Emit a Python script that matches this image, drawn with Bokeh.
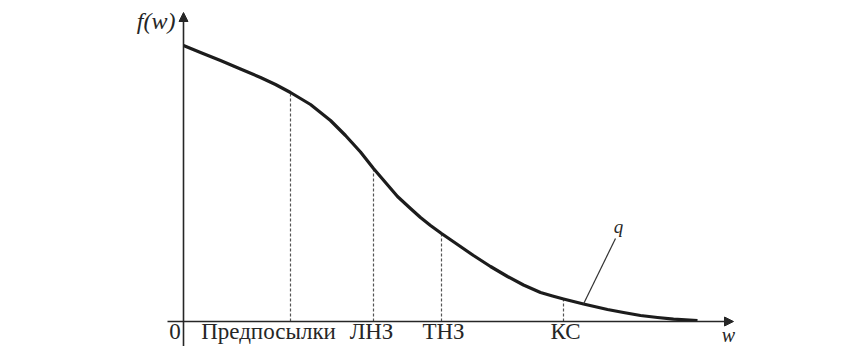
import numpy as np
from bokeh.plotting import figure
from bokeh.models import Range1d, Arrow, NormalHead, ColumnDataSource
from bokeh.embed import file_html
from bokeh.resources import INLINE
from bokeh.core.properties import value

# --- data (arbitrary units) ---
curve_w = [0.00, 0.17, 0.37, 0.57, 0.77, 0.92, 1.07, 1.27, 1.47, 1.62,
           1.77, 1.90, 2.02, 2.14, 2.27, 2.37, 2.47, 2.58, 2.74, 2.90,
           3.07, 3.24, 3.40, 3.57, 3.69, 3.80, 4.00, 4.24, 4.40, 4.57,
           4.74, 4.90, 5.14]
curve_f = [2.76, 2.69, 2.61, 2.525, 2.44, 2.37, 2.29, 2.17, 2.01, 1.86,
           1.695, 1.53, 1.39, 1.25, 1.13, 1.04, 0.96, 0.88, 0.77, 0.66,
           0.55, 0.45, 0.365, 0.29, 0.255, 0.225, 0.175, 0.12, 0.09, 0.06,
           0.04, 0.024, 0.01]

zone_bounds_w = [1.07, 1.90, 2.58, 3.80]
zone_labels = ["Предпосылки", "ЛНЗ", "ТНЗ", "КС"]
zone_label_w = [0.85, 1.88, 2.60, 3.82]

origin_label = "0"
x_axis_label = "w"
y_axis_label = "f(w)"
curve_label = "q"
curve_label_w = 4.35
curve_label_f = 0.95
curve_pointer_from_w = 4.32
curve_pointer_from_f = 0.83
curve_pointer_to_w = 4.00

x_axis_extent = [-0.16, 5.50]
y_axis_extent = [-0.25, 3.09]

INK = "#262626"
SERIF = value("Liberation Serif")

p = figure(width=867, height=346,
           x_range=Range1d(-1.83, 6.84), y_range=Range1d(-0.25, 3.21),
           x_axis_type=None, y_axis_type=None,
           output_backend="svg", toolbar_location=None, min_border=0)
p.grid.visible = False
p.outline_line_color = None
p.background_fill_color = "white"
p.border_fill_color = "white"

# axes with arrows
p.add_layout(Arrow(end=NormalHead(size=9, fill_color=INK, line_color=INK, line_width=1),
                   x_start=x_axis_extent[0], y_start=0, x_end=x_axis_extent[1], y_end=0,
                   line_color=INK, line_width=1.6))
p.add_layout(Arrow(end=NormalHead(size=9, fill_color=INK, line_color=INK, line_width=1),
                   x_start=0, y_start=y_axis_extent[0], x_end=0, y_end=y_axis_extent[1],
                   line_color=INK, line_width=1.6))

# dashed zone boundaries up to the curve
bounds_top = np.interp(zone_bounds_w, curve_w, curve_f)
p.segment(x0=zone_bounds_w, y0=[0] * len(zone_bounds_w),
          x1=zone_bounds_w, y1=list(bounds_top),
          line_color="#555555", line_width=1.2, line_dash="3 2")

# curve
p.line(curve_w, curve_f, line_color="#1c1c1c", line_width=3.2, line_join="round")

# pointer for q
pointer_to_f = float(np.interp(curve_pointer_to_w, curve_w, curve_f))
p.segment(x0=[curve_pointer_from_w], y0=[curve_pointer_from_f],
          x1=[curve_pointer_to_w], y1=[pointer_to_f],
          line_color="#333333", line_width=1.2)

# zone labels
src = ColumnDataSource(dict(x=zone_label_w, y=[-0.10] * len(zone_label_w), t=zone_labels))
p.text(x="x", y="y", text="t", source=src, text_font=SERIF, text_font_size="23px",
       text_align="center", text_baseline="alphabetic", text_color=INK)

p.text(x=[-0.085], y=[-0.10], text=[origin_label], text_font=SERIF, text_font_size="23px",
       text_align="center", text_baseline="alphabetic", text_color=INK)
p.text(x=[5.45], y=[-0.13], text=[x_axis_label], text_font=SERIF, text_font_size="20px",
       text_font_style="italic", text_align="center", text_baseline="alphabetic", text_color=INK)
p.text(x=[-0.08], y=[3.01], text=[y_axis_label], text_font=SERIF, text_font_size="24px",
       text_font_style="italic", text_align="right", text_baseline="alphabetic", text_color=INK)
p.text(x=[curve_label_w], y=[curve_label_f], text=[curve_label], text_font=SERIF,
       text_font_size="19px", text_font_style="italic", text_align="center",
       text_baseline="alphabetic", text_color=INK)

open("out.html", "w").write(file_html(p, INLINE))
